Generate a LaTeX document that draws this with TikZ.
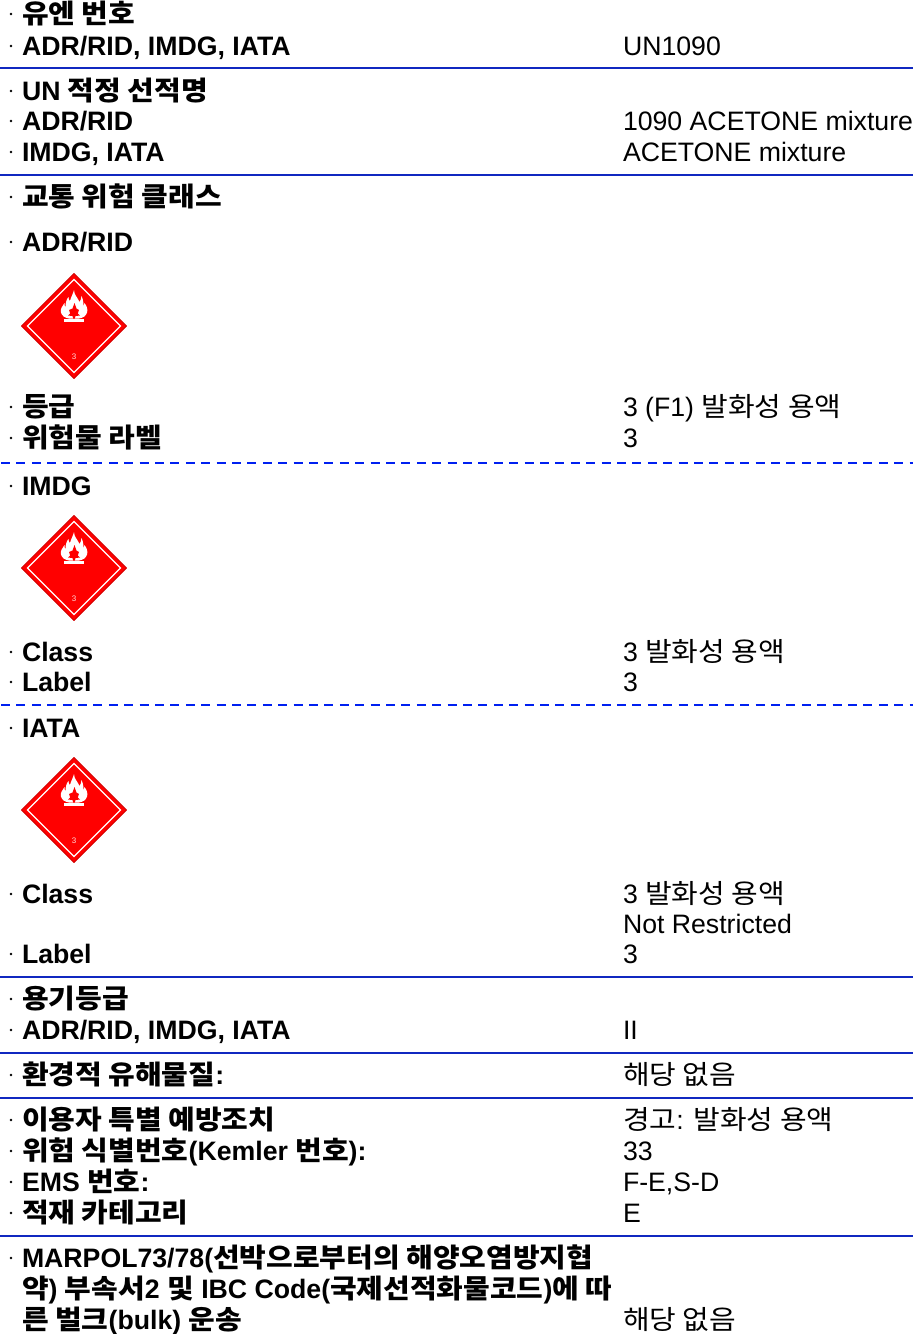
\documentclass[tikz,border=0pt]{standalone}
\usepackage{fontspec}
\setmainfont{Liberation Sans}
\newfontfamily\cjk[FakeStretch=1.087]{Noto Sans CJK KR}
\newcommand{\K}[1]{\raisebox{-0.8pt}{\cjk #1}}
\definecolor{rulecol}{HTML}{1028C0}
\definecolor{dashcol}{HTML}{0020F0}
\definecolor{hazred}{HTML}{FF0000}
\tikzset{
  every node/.style={inner sep=0pt,outer sep=0pt,font=\fontsize{26.67}{30}\selectfont},
  lab/.style={anchor=base west,font=\fontsize{26.67}{30}\selectfont\bfseries},
  val/.style={anchor=base west,font=\fontsize{26.67}{30}\selectfont},
  sect/.style={draw=rulecol,line width=1.4pt},
  dsect/.style={draw=dashcol,line width=1.2pt,dash pattern=on 9pt off 6.4pt},
  pics/placard/.style={code={
    \fill[hazred,draw=hazred!82!black,line width=1pt,line join=round] (-52.5,0)--(0,-52.5)--(52.5,0)--(0,52.5)--cycle;
    \draw[white,line width=1.1pt] (-46.5,0)--(0,-46.5)--(46.5,0)--(0,46.5)--cycle;
    \fill[white] (0,-36) .. controls (0,-31) and (4,-28) .. (5.5,-24)
      .. controls (6.5,-26) and (7.5,-27) .. (7.5,-30) .. controls (9.5,-26) and (9.5,-22) .. (9.5,-20)
      .. controls (10.5,-21) and (10.5,-22) .. (10.5,-23) .. controls (13,-20) and (14,-16) .. (13,-13.5)
      .. controls (12,-10) and (9,-8) .. (5,-7.5) -- (-5,-7.5)
      .. controls (-9,-8) and (-12,-10) .. (-13,-13.5) .. controls (-14,-17) and (-11.5,-20) .. (-9.5,-23)
      .. controls (-9.5,-21) and (-9.5,-20) .. (-8.5,-19) .. controls (-8.5,-23) and (-7.5,-27) .. (-5.5,-29)
      .. controls (-5.5,-27) and (-5,-26) .. (-4,-25) .. controls (-3,-29) and (-1,-32) .. (0,-36) -- cycle;
    \fill[hazred] (0.5,-23) -- (2.5,-17.5) -- (5,-16) -- (3.8,-12.5) -- (6,-10.5) -- (1.5,-10) -- (0.8,-7.5) -- (-0.8,-7.5)
      -- (-1.5,-10) -- (-6,-10.5) -- (-3.8,-12.5) -- (-5,-16) -- (-1.5,-17.5) -- cycle;
    \fill[white] (-10,-6.6) rectangle (10,-4.2);
    \node[font=\fontsize{8}{8}\selectfont,text=white!85!hazred] (pn) at (0,31) {3};
  }}
}
\begin{document}
\begin{tikzpicture}[x=1pt,y=-1pt]
\useasboundingbox (0,0) rectangle (913,1334);
% rules
\coordinate (r1a) at (0,68); \coordinate (r1b) at (913,68);
\coordinate (r2a) at (0,175); \coordinate (r2b) at (913,175);
\coordinate (d1a) at (1,463); \coordinate (d1b) at (913,463);
\coordinate (d2a) at (1,705); \coordinate (d2b) at (913,705);
\coordinate (r3a) at (0,977); \coordinate (r3b) at (913,977);
\coordinate (r4a) at (0,1053); \coordinate (r4b) at (913,1053);
\coordinate (r5a) at (0,1098); \coordinate (r5b) at (913,1098);
\coordinate (r6a) at (0,1236); \coordinate (r6b) at (913,1236);
\draw[sect] (r1a)--(r1b); \draw[sect] (r2a)--(r2b); \draw[sect] (r3a)--(r3b);
\draw[sect] (r4a)--(r4b); \draw[sect] (r5a)--(r5b); \draw[sect] (r6a)--(r6b);
\draw[dsect] (d1a)--(d1b); \draw[dsect] (d2a)--(d2b);
% placards
\pic at (74,326) {placard};
\pic at (74,568) {placard};
\pic at (74,810) {placard};
% labels
\node[lab] (l1) at (22,23) {\K{유엔 번호}};
\node[lab] (l2) at (22,55) {ADR/RID, IMDG, IATA};
\node[lab] (l3) at (22,100) {UN \K{적정 선적명}};
\node[lab] (l4) at (22,130) {ADR/RID};
\node[lab] (l5) at (22,161) {IMDG, IATA};
\node[lab] (l6) at (22,206) {\K{교통 위험 클래스}};
\node[lab] (l7) at (22,251) {ADR/RID};
\node[lab] (l8) at (22,416) {\K{등급}};
\node[lab] (l9) at (22,447) {\K{위험물 라벨}};
\node[lab] (l10) at (22,495) {IMDG};
\node[lab] (l11) at (22,661) {Class};
\node[lab] (l12) at (22,691) {Label};
\node[lab] (l13) at (22,737) {IATA};
\node[lab] (l14) at (22,903) {Class};
\node[lab] (l15) at (22,963) {Label};
\node[lab] (l16) at (22,1008) {\K{용기등급}};
\node[lab] (l17) at (22,1039) {ADR/RID, IMDG, IATA};
\node[lab] (l18) at (22,1084) {\K{환경적 유해물질}:};
\node[lab] (l19) at (22,1129) {\K{이용자 특별 예방조치}};
\node[lab] (l20) at (22,1160) {\K{위험 식별번호}(Kemler \K{번호}):};
\node[lab] (l21) at (22,1191) {EMS \K{번호}:};
\node[lab] (l22) at (22,1222) {\K{적재 카테고리}};
\node[lab] (l23) at (22,1267) {MARPOL73/78(\K{선박으로부터의 해양오염방지협}};
\node[lab] (l24) at (22,1298) {\K{약}) \K{부속서}2 \K{및} IBC Code(\K{국제선적화물코드})\K{에 따}};
\node[lab] (l25) at (22,1329) {\K{른 벌크}(bulk) \K{운송}};
% bullets
\foreach \y in {23,55,100,130,161,206,251,416,447,495,661,691,737,903,963,1008,1039,1084,1129,1160,1191,1222,1267}
  \fill (11,\y-9) circle (1.4pt);
% values
\node[val] (v1) at (623,55) {UN1090};
\node[val] (v2) at (623,130) {1090 ACETONE mixture};
\node[val] (v3) at (623,161) {ACETONE mixture};
\node[val] (v4) at (623,416) {3 (F1) \K{발화성 용액}};
\node[val] (v5) at (623,447) {3};
\node[val] (v6) at (623,661) {3 \K{발화성 용액}};
\node[val] (v7) at (623,691) {3};
\node[val] (v8) at (623,903) {3 \K{발화성 용액}};
\node[val] (v9) at (623,933) {Not Restricted};
\node[val] (v10) at (623,963) {3};
\node[val] (v11) at (623,1039) {II};
\node[val] (v12) at (623,1084) {\K{해당 없음}};
\node[val] (v13) at (623,1129) {\K{경고}: \K{발화성 용액}};
\node[val] (v14) at (623,1160) {33};
\node[val] (v15) at (623,1191) {F-E,S-D};
\node[val] (v16) at (623,1222) {E};
\node[val] (v17) at (623,1329) {\K{해당 없음}};
\end{tikzpicture}
\end{document}
